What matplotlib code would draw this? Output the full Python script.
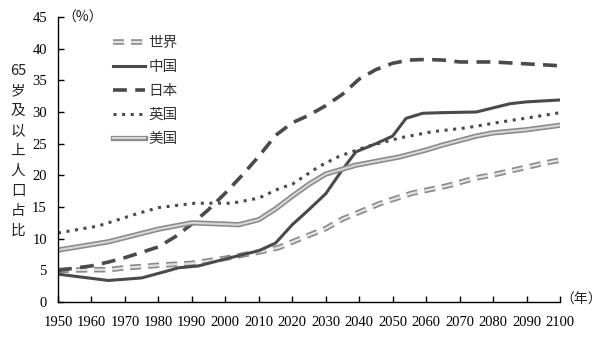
import matplotlib
matplotlib.use("Agg")
import matplotlib.pyplot as plt
from matplotlib.legend_handler import HandlerTuple

plt.rcParams['font.family'] = ['Noto Sans CJK SC', 'DejaVu Sans']
plt.rcParams['lines.scale_dashes'] = False

world_years = [1950, 1960, 1965, 1970, 1980, 1990, 2000, 2007, 2010, 2016, 2021, 2030, 2035, 2041, 2046, 2050, 2056, 2066, 2075, 2081, 2086, 2096, 2100]
world_vals = [5.0, 5.1, 5.1, 5.4, 5.8, 6.1, 6.9, 7.6, 7.9, 8.6, 9.7, 11.6, 13.1, 14.4, 15.5, 16.2, 17.2, 18.3, 19.6, 20.2, 20.8, 22.0, 22.4]

china_years = [1950, 1965, 1975, 1982, 1986, 1992, 2000, 2010, 2015, 2020, 2025, 2030, 2035, 2039, 2045, 2050, 2054, 2059, 2065, 2075, 2085, 2090, 2100]
china_vals = [4.4, 3.4, 3.8, 4.8, 5.4, 5.7, 6.8, 8.1, 9.3, 12.2, 14.6, 17.1, 20.9, 23.7, 25.0, 26.2, 29.0, 29.8, 29.9, 30.0, 31.3, 31.6, 31.9]

japan_years = [1950, 1960, 1965, 1970, 1980, 1985, 1990, 1995, 2000, 2005, 2010, 2015, 2020, 2025, 2030, 2035, 2040, 2045, 2050, 2055, 2060, 2065, 2070, 2080, 2090, 2100]
japan_vals = [5.0, 5.7, 6.3, 7.0, 8.7, 10.3, 12.3, 14.6, 17.2, 20.0, 23.0, 26.3, 28.3, 29.5, 31.0, 32.8, 35.2, 36.7, 37.7, 38.2, 38.3, 38.2, 37.9, 37.9, 37.6, 37.3]

uk_years = [1950, 1962, 1974, 1980, 1991, 2002, 2010, 2016, 2020, 2028, 2034, 2042, 2050, 2052, 2062, 2072, 2082, 2092, 2100]
uk_vals = [10.9, 12.0, 14.0, 14.9, 15.6, 15.6, 16.4, 17.9, 18.6, 21.4, 23.0, 24.5, 25.6, 25.9, 26.9, 27.5, 28.4, 29.2, 29.9]

us_years = [1950, 1965, 1980, 1990, 2000, 2004, 2010, 2015, 2020, 2025, 2030, 2039, 2050, 2052, 2060, 2065, 2075, 2080, 2090, 2100]
us_vals = [8.2, 9.5, 11.5, 12.5, 12.3, 12.2, 13.0, 14.7, 16.7, 18.6, 20.2, 21.6, 22.7, 22.9, 24.0, 24.8, 26.2, 26.7, 27.2, 27.9]

labels = ['世界', '中国', '日本', '英国', '美国']
x_ticks = list(range(1950, 2101, 10))
y_ticks = list(range(0, 46, 5))

fig = plt.figure(figsize=(6.12, 3.42), dpi=100)
ax = fig.add_axes([58/612, 1-302/342, (560-58)/612, (302-17)/342])

dark = '#4a4a4a'
w1, = ax.plot(world_years, world_vals, color='#8a8a8a', lw=4.0, dashes=(8, 5), dash_capstyle='butt')
w2, = ax.plot(world_years, world_vals, color='#e2e2e2', lw=1.6, dashes=(8, 5), dash_capstyle='butt')
c1, = ax.plot(china_years, china_vals, color=dark, lw=2.2)
j1, = ax.plot(japan_years, japan_vals, color=dark, lw=2.6, dashes=(10, 6), dash_capstyle='butt')
u1, = ax.plot(uk_years, uk_vals, color=dark, lw=2.2, dashes=(2.2, 4), dash_capstyle='butt')
s1, = ax.plot(us_years, us_vals, color='#8a8a8a', lw=3.8)
s2, = ax.plot(us_years, us_vals, color='#d6d6d6', lw=1.5)

ax.set_xlim(1950, 2100)
ax.set_ylim(0, 45)
ax.set_xticks(x_ticks)
ax.set_yticks(y_ticks)
ax.set_xticklabels([str(v) for v in x_ticks], family='Liberation Serif', fontsize=10.5)
ax.set_yticklabels([str(v) for v in y_ticks], family='Liberation Serif', fontsize=10.5)
ax.tick_params(direction='in', length=4, width=1, color='black')
ax.tick_params(axis='y', pad=8)
ax.tick_params(axis='x', pad=10)
for s in ['top', 'right']:
    ax.spines[s].set_visible(False)
for s in ['left', 'bottom']:
    ax.spines[s].set_linewidth(1.0)
    ax.spines[s].set_color('black')
ax.margins(0)

leg = ax.legend([(w1, w2), c1, j1, u1, (s1, s2)], labels,
                handler_map={tuple: HandlerTuple(ndivide=1)},
                loc='upper left', bbox_to_anchor=(113/612, 1-36/342),
                bbox_transform=fig.transFigure, frameon=False,
                fontsize=10.5, handlelength=2.2, handletextpad=0.25,
                labelspacing=0.68, borderpad=0, borderaxespad=0)
for t in leg.get_texts():
    t.set_color('#333333')

fig.text(18/612, 1-151/342, '65\n岁\n及\n以\n上\n人\n口\n占\n比', ha='center', va='center',
         fontsize=10.5, linespacing=1.55, color='#222222')
fig.text(62/612, 1-18/342, '（%）', ha='left', va='center', fontsize=10, color='#222222')
fig.text(560/612, 1-300/342, '（年）', ha='left', va='center', fontsize=10, color='#222222')

fig.savefig('out.png', dpi=100, facecolor='white')
